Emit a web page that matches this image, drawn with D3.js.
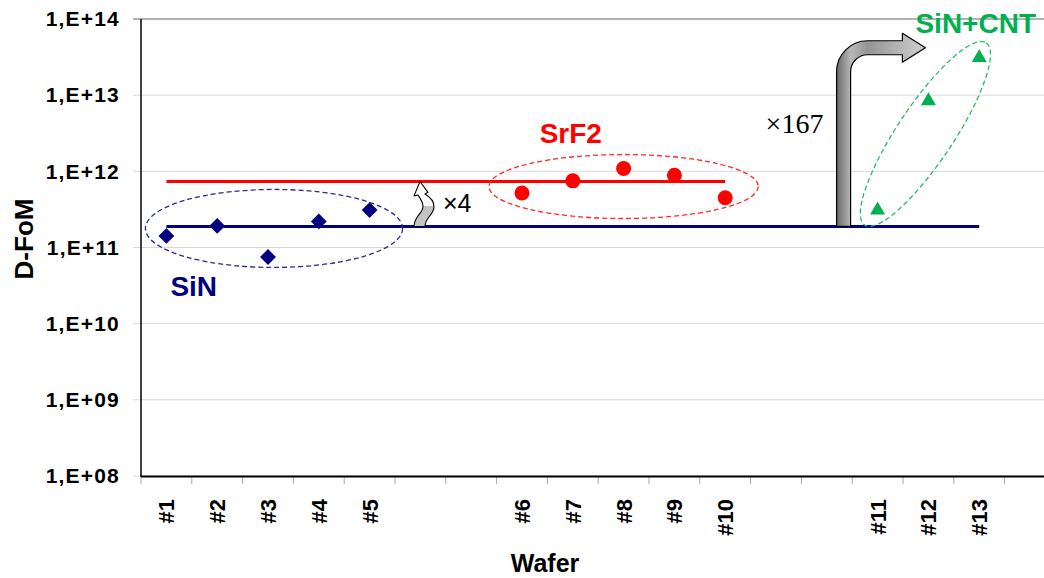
<!DOCTYPE html>
<html>
<head>
<meta charset="utf-8">
<script src="https://cdn.jsdelivr.net/npm/d3@7"></script>
<style>
  body { margin: 0; background: #fff; }
  svg { display: block; font-family: "Liberation Sans", Arial, sans-serif; }
</style>
</head>
<body>
<div id="chart"></div>
<script>
// categories on the x axis (empty slots are gaps between the groups)
const wafers = ["#1", "#2", "#3", "#4", "#5", "", "", "#6", "#7", "#8", "#9", "#10", "", "", "#11", "#12", "#13", ""];
const decades = [1e8, 1e9, 1e10, 1e11, 1e12, 1e13, 1e14];

const sinWafers = ["#1", "#2", "#3", "#4", "#5"];
const sinValues = [1.42e11, 1.92e11, 7.5e10, 2.2e11, 3.1e11];
const srf2Wafers = ["#6", "#7", "#8", "#9", "#10"];
const srf2Values = [5.2e11, 7.5e11, 1.09e12, 8.9e11, 4.5e11];
const cntWafers = ["#11", "#12", "#13"];
const cntValues = [3.1e11, 8.4e12, 3.1e13];
const sinMean = 1.89e11;
const srf2Mean = 7.35e11;

const dim = { width: 1044, height: 578, left: 141, top: 19, bottom: 476, step: 50.8 };

const svg = d3.select("#chart").append("svg")
    .attr("width", dim.width)
    .attr("height", dim.height);

const x = d3.scaleBand()
    .domain(d3.range(wafers.length))
    .range([dim.left, dim.left + dim.step * wafers.length]);
const xc = w => x(wafers.indexOf(w)) + x.bandwidth() / 2;
const y = d3.scaleLog().domain([1e8, 1e14]).range([dim.bottom, dim.top]);
const right = dim.left + dim.step * wafers.length;

// gridlines
svg.append("g").selectAll("line")
    .data(decades)
    .enter()
    .append("line")
    .attr("x1", dim.left - 8)
    .attr("x2", right)
    .attr("y1", d => y(d))
    .attr("y2", d => y(d))
    .attr("stroke", d => d === 1e14 ? "#9a9a9a" : "#d9d9d9")
    .attr("stroke-width", d => d === 1e14 ? 1.3 : 1);

// y axis labels
const yAxis = svg.append("g")
    .attr("transform", `translate(${dim.left},0)`)
    .call(d3.axisLeft(y).tickValues(decades)
        .tickFormat(d => "1,E+" + String(Math.round(Math.log10(d))).padStart(2, "0"))
        .tickSize(0).tickPadding(21));
yAxis.select(".domain").remove();
yAxis.selectAll("text")
    .attr("font-family", "'Liberation Sans', Arial, sans-serif")
    .attr("font-size", "21px")
    .attr("font-weight", "bold")
    .attr("letter-spacing", "1.2px")
    .attr("fill", "#000");

// x ticks at band boundaries
svg.append("g").selectAll("line")
    .data(d3.range(wafers.length + 1))
    .enter()
    .append("line")
    .attr("x1", i => dim.left + i * x.step())
    .attr("x2", i => dim.left + i * x.step())
    .attr("y1", dim.bottom)
    .attr("y2", dim.bottom + 8)
    .attr("stroke", "#aaa");

// x labels
const xAxis = svg.append("g")
    .attr("transform", `translate(0,${dim.bottom})`)
    .call(d3.axisBottom(x).tickFormat(i => wafers[i]).tickSize(0));
xAxis.select(".domain").remove();
xAxis.selectAll("text")
    .attr("font-family", "'Liberation Sans', Arial, sans-serif")
    .attr("font-size", "22px")
    .attr("font-weight", "bold")
    .attr("fill", "#000")
    .attr("text-anchor", "end")
    .attr("dy", null)
    .attr("y", 0)
    .attr("transform", "translate(8,23) rotate(-90)");

// axes lines
svg.append("line")
    .attr("x1", dim.left).attr("x2", dim.left)
    .attr("y1", dim.top).attr("y2", dim.bottom + 1)
    .attr("stroke", "#000").attr("stroke-width", 1.5);
svg.append("line")
    .attr("x1", dim.left).attr("x2", right)
    .attr("y1", dim.bottom + 0.5).attr("y2", dim.bottom + 0.5)
    .attr("stroke", "#000").attr("stroke-width", 2);

// axis titles
svg.append("text")
    .attr("transform", "translate(33,239) rotate(-90)")
    .attr("text-anchor", "middle")
    .attr("font-size", "26px").attr("font-weight", "bold")
    .text("D-FoM");
svg.append("text")
    .attr("x", 545).attr("y", 572)
    .attr("text-anchor", "middle")
    .attr("font-size", "25px").attr("font-weight", "bold")
    .text("Wafer");

// mean lines
svg.append("line")
    .attr("x1", xc("#1")).attr("x2", xc("#10"))
    .attr("y1", y(srf2Mean)).attr("y2", y(srf2Mean))
    .attr("stroke", "#ff0000").attr("stroke-width", 3);
svg.append("line")
    .attr("x1", xc("#1")).attr("x2", xc("#13"))
    .attr("y1", y(sinMean)).attr("y2", y(sinMean))
    .attr("stroke", "#000080").attr("stroke-width", 3);

// group ellipses
const ell = svg.append("g").attr("fill", "none").attr("stroke-width", 1.3).attr("stroke-dasharray", "5,3");
ell.append("ellipse")
    .attr("cx", (xc("#1") + xc("#5")) / 2 + 6)
    .attr("cy", y(sinMean) + 2)
    .attr("rx", (xc("#5") - xc("#1")) / 2 + 27)
    .attr("ry", 39)
    .attr("stroke", "#2b2b95");
ell.append("ellipse")
    .attr("cx", xc("#8"))
    .attr("cy", y(srf2Mean) + 5)
    .attr("rx", (xc("#10") - xc("#6")) / 2 + 33)
    .attr("ry", 32)
    .attr("stroke", "#ff2a2a");
{
    const p1 = [xc("#11"), y(cntValues[0])], p2 = [xc("#13"), y(cntValues[2])];
    const cx = (p1[0] + p2[0]) / 2 - 3, cy = (p1[1] + p2[1]) / 2;
    const ang = Math.atan2(p2[1] - p1[1], p2[0] - p1[0]) * 180 / Math.PI;
    const half = Math.hypot(p2[0] - p1[0], p2[1] - p1[1]) / 2;
    ell.append("ellipse")
        .attr("transform", `translate(${cx},${cy}) rotate(${ang})`)
        .attr("rx", half + 18)
        .attr("ry", 28)
        .attr("stroke", "#2dbb5f");
}

// markers
svg.append("g").selectAll("path")
    .data(sinValues)
    .enter()
    .append("path")
    .attr("d", d3.symbol(d3.symbolDiamond2, 160))
    .attr("transform", (d, i) => `translate(${xc(sinWafers[i])},${y(d)})`)
    .attr("fill", "#000080");
svg.append("g").selectAll("circle")
    .data(srf2Values)
    .enter()
    .append("circle")
    .attr("cx", (d, i) => xc(srf2Wafers[i]))
    .attr("cy", d => y(d))
    .attr("r", 7.5)
    .attr("fill", "#ff0000");
svg.append("g").selectAll("path")
    .data(cntValues)
    .enter()
    .append("path")
    .attr("d", d3.symbol(d3.symbolTriangle2, 160))
    .attr("transform", (d, i) => `translate(${xc(cntWafers[i])},${y(d)})`)
    .attr("fill", "#00b050");

// group labels
svg.append("text")
    .attr("x", xc("#1") + 4).attr("y", y(sinMean) + 70)
    .attr("font-size", "28px").attr("font-weight", "bold").attr("fill", "#000080")
    .text("SiN");
svg.append("text")
    .attr("x", xc("#7") - 2).attr("y", 143)
    .attr("text-anchor", "middle")
    .attr("font-size", "28px").attr("font-weight", "bold").attr("fill", "#ff0000")
    .text("SrF2");
svg.append("text")
    .attr("x", 1036).attr("y", 33)
    .attr("text-anchor", "end")
    .attr("font-size", "28px").attr("font-weight", "bold").attr("fill", "#00b050")
    .text("SiN+CNT");

// gradients
const defs = svg.append("defs");
const g1 = defs.append("linearGradient").attr("id", "bigArrow")
    .attr("x1", "0").attr("x2", "1").attr("y1", "0").attr("y2", "0");
[["0", "#6a6a6a"], ["0.16", "#b8b8b8"], ["0.35", "#959595"], ["1", "#cfcfcf"]]
    .forEach(s => g1.append("stop").attr("offset", s[0]).attr("stop-color", s[1]));

// x4 arrow between SiN and SrF2 lines
{
    const yb = y(sinMean), yt = y(srf2Mean);
    const x0 = x(5) + 19;
    const g2 = defs.append("linearGradient").attr("id", "smallArrow")
        .attr("gradientUnits", "userSpaceOnUse")
        .attr("x1", 0).attr("x2", 0).attr("y1", yt).attr("y2", yb);
    g2.append("stop").attr("offset", "0.55").attr("stop-color", "#fff");
    g2.append("stop").attr("offset", "0.55").attr("stop-color", "#c4c4c4");
    const h = yb - yt;
    const P = (dx, f) => `${x0 + dx},${yb - f * h}`;
    svg.append("path")
        .attr("d", `M${P(0, 0)} C${P(0, 0.23)} ${P(9, 0.28)} ${P(9, 0.45)} ` +
            `C${P(9, 0.55)} ${P(6, 0.62)} ${P(4, 0.7)} L${P(0, 0.68)} L${P(6, 1)} ` +
            `L${P(14, 0.76)} L${P(11, 0.72)} C${P(17, 0.64)} ${P(20, 0.55)} ${P(20, 0.44)} ` +
            `C${P(20, 0.26)} ${P(11, 0.2)} ${P(11, 0)} Z`)
        .attr("fill", "url(#smallArrow)")
        .attr("stroke", "#000")
        .attr("stroke-width", 1.1)
        .attr("stroke-linejoin", "round");
    svg.append("text")
        .attr("x", x0 + 29).attr("y", yb - 14)
        .attr("font-size", "25px")
        .text("\u00d74");
}

// x167 bent arrow
{
    const yb = y(sinMean);
    const L = xc("#11") - 41, W = 14, R = 31;
    const top = y(cntValues[2]) - 17;
    const tip = xc("#12") - 3;
    const hb = tip - 23;
    svg.append("path")
        .attr("d", `M${L},${yb} L${L},${top + R} A${R},${R} 0 0 1 ${L + R},${top} ` +
            `L${hb},${top} L${hb},${top - 7.5} L${tip},${top + W / 2} L${hb},${top + W + 7.5} ` +
            `L${hb},${top + W} L${L + R},${top + W} A${R - W},${R - W} 0 0 0 ${L + W},${top + R} ` +
            `L${L + W},${yb} Z`)
        .attr("fill", "url(#bigArrow)")
        .attr("stroke", "#000")
        .attr("stroke-width", 1.2)
        .attr("stroke-linejoin", "round");
    svg.append("text")
        .attr("x", L - 71).attr("y", 133)
        .attr("font-family", "'Liberation Serif', 'Times New Roman', serif")
        .attr("font-size", "28px")
        .text("\u00d7167");
}
</script>
</body>
</html>
